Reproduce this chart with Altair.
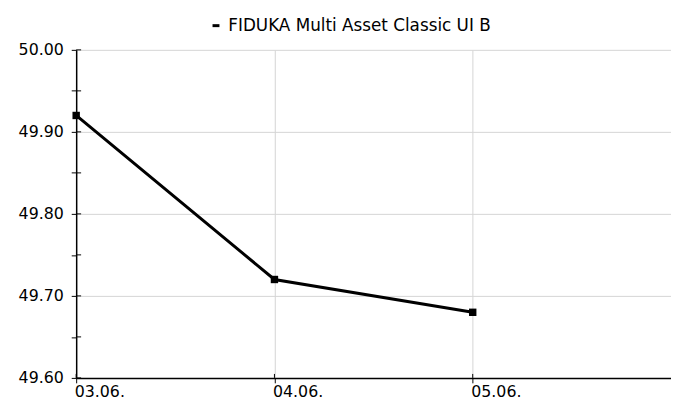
import altair as alt
import pandas as pd

# ---- data ----
dates = ["03.06.", "04.06.", "05.06."]
prices = [49.92, 49.72, 49.68]
series_name = "FIDUKA Multi Asset Classic UI B"
y_ticks = [49.60, 49.65, 49.70, 49.75, 49.80, 49.85, 49.90, 49.95, 50.00]
x_domain_days = 3  # axis runs one day past the last value

df = pd.DataFrame({
    "day": list(range(len(dates))),
    "date": dates,
    "price": prices,
    "series": [series_name] * len(dates),
})
ytick_df = pd.DataFrame({"price": y_ticks})
xtick_df = pd.DataFrame({"day": list(range(len(dates)))})

W, H = 602, 332
FONT = "DejaVu Sans"
FS = 16
GRID = "#d4d4d4"

label_expr = "[" + ",".join(f"'{d}'" for d in dates) + "][datum.value]"
minor_test = "round(datum.value*20) % 2 === 1"

x_scale = alt.Scale(domain=[0, x_domain_days], nice=False, zero=False)
y_scale = alt.Scale(domain=[min(y_ticks), max(y_ticks)], nice=False, zero=False)

x_axis = alt.Axis(
    values=list(range(len(dates))), labelExpr=label_expr, title=None,
    grid=True, gridColor=GRID, gridWidth=1,
    domainColor="black", domainWidth=1.5, tickColor="black", tickSize=5, tickWidth=1,
    labelAlign="left", labelBaseline="alphabetic", labelPadding=14, labelOffset=-2,
    labelFont=FONT, labelFontSize=FS, labelColor="black",
)
y_axis = alt.Axis(
    values=y_ticks, format=".2f", title=None,
    labelExpr=f"{minor_test} ? '' : datum.label",
    grid=True, gridColor=GRID, gridWidth=1,
    gridOpacity={"condition": {"test": f"{minor_test} || datum.value < 49.61", "value": 0}, "value": 1},
    domainColor="black", domainWidth=1.5, tickColor="black", tickSize=5, tickWidth=1,
    labelPadding=8, labelFont=FONT, labelFontSize=FS, labelColor="black",
)

X = alt.X("day:Q", scale=x_scale, axis=x_axis)
Y = alt.Y("price:Q", scale=y_scale, axis=y_axis)

base = alt.Chart(df)

line = base.mark_line(strokeWidth=3).encode(
    x=X, y=Y,
    color=alt.Color(
        "series:N", scale=alt.Scale(range=["black"]),
        legend=alt.Legend(
            title=None, orient="none", legendX=133, legendY=-33,
            symbolType="stroke", symbolSize=49, symbolStrokeWidth=3,
            labelFont=FONT, labelFontSize=17, labelColor="black",
            labelOffset=4, labelLimit=0, padding=0,
        ),
    ),
)

points = base.mark_point(shape="square", filled=True, size=56, color="black", opacity=1).encode(
    x=X, y=Y,
)

# inner half of the crossing tick marks
ytick_in = alt.Chart(ytick_df).mark_rule(color="black", strokeWidth=1).encode(
    y=Y, x=alt.value(0), x2=alt.value(5),
)
xtick_in = alt.Chart(xtick_df).mark_rule(color="black", strokeWidth=1).encode(
    x=X, y=alt.value(H - 4), y2=alt.value(H),
)

chart = alt.layer(line, ytick_in, xtick_in, points).properties(
    width=W, height=H,
    autosize=alt.AutoSizeParams(type="none"),
    padding={"left": 69, "top": 40, "right": 0, "bottom": 20},
    background="white",
).configure_view(stroke=None)

chart.save("out.html", embed_options={"renderer": "svg", "actions": False})
